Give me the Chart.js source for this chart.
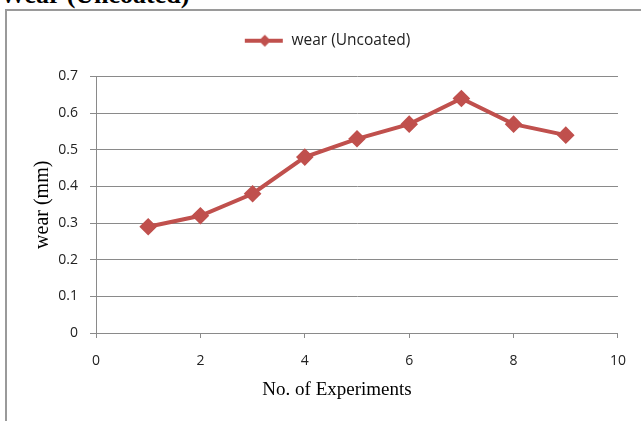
<!DOCTYPE html>
<html>
<head>
<meta charset="utf-8">
<script src="https://cdn.jsdelivr.net/npm/chart.js@4/dist/chart.umd.min.js"></script>
<style>
  html, body { margin: 0; padding: 0; background: #fff; overflow: hidden; }
  .wrap { position: relative; width: 641px; height: 421px; overflow: hidden; }
  .titulo { position: absolute; left: 0; top: -18px; font: bold 26px "Liberation Serif", serif; line-height: 26px; color: #000; white-space: nowrap; }
  .moldura { position: absolute; left: 5px; top: 9px; width: 700px; height: 500px; border: 2px solid #9a9a9a; box-sizing: border-box; }
  .eixo-x { position: absolute; left: 237px; width: 200px; top: 378px; text-align: center; font: 19px "Liberation Serif", serif; color: #000; white-space: nowrap; }
  canvas { position: absolute; left: 0; top: 0; }
</style>
</head>
<body>
<div class="wrap">
  <div class="titulo">Wear (Uncoated)</div>
  <div class="moldura"></div>
  <canvas id="grafico" width="641" height="421"></canvas>
  <div class="eixo-x">No. of Experiments</div>
</div>
<script>
var experimentos = [1, 2, 3, 4, 5, 6, 7, 8, 9];
var desgaste = [0.29, 0.32, 0.38, 0.48, 0.53, 0.57, 0.64, 0.57, 0.54];
var rotuloSerie = 'wear (Uncoated)';
var rotuloY = 'wear (mm)';
var xMin = 0, xMax = 10, xPasso = 2;
var yMin = 0, yMax = 0.7, yPasso = 0.1;

var vermelho = '#C0504D';
var cinza = '#8a8a8a';

// icone da legenda: linha com losango no meio
var icone = document.createElement('canvas');
icone.width = 40; icone.height = 16;
(function () {
  var c = icone.getContext('2d');
  c.strokeStyle = vermelho; c.lineWidth = 4;
  c.beginPath(); c.moveTo(1, 8); c.lineTo(39, 8); c.stroke();
  c.fillStyle = vermelho;
  c.beginPath(); c.moveTo(21, 2); c.lineTo(27, 8); c.lineTo(21, 14); c.lineTo(15, 8); c.closePath(); c.fill();
})();

new Chart(document.getElementById('grafico'), {
  type: 'line',
  data: {
    datasets: [{
      label: rotuloSerie,
      data: experimentos.map(function (x, i) { return { x: x, y: desgaste[i] }; }),
      borderColor: vermelho,
      backgroundColor: vermelho,
      borderWidth: 4,
      pointStyle: 'rectRot',
      pointRadius: 6,
      pointHoverRadius: 6,
      tension: 0
    }]
  },
  options: {
    responsive: false,
    animation: false,
    layout: { padding: { top: 5, right: 23, left: 36, bottom: 0 } },
    plugins: {
      tooltip: { enabled: false },
      legend: {
        position: 'top',
        labels: {
          usePointStyle: true,
          pointStyle: icone,
          pointStyleWidth: 40,
          padding: 28,
          color: '#222',
          font: { family: '"Open Sans", sans-serif', size: 15.5 }
        }
      },
      // espaco vazio entre a legenda e a area do grafico
      title: {
        display: true,
        text: '',
        weight: 500,
        padding: 0,
        font: { size: 18, lineHeight: 1 }
      }
    },
    scales: {
      x: {
        type: 'linear',
        min: xMin, max: xMax,
        afterFit: function (s) { s.height = 88; },
        ticks: { stepSize: xPasso, padding: 15, color: '#222', font: { family: '"Open Sans", sans-serif', size: 14 } },
        grid: { drawOnChartArea: false, drawTicks: true, tickLength: 5, color: cinza },
        border: { display: true, color: cinza, width: 1 }
      },
      y: {
        min: yMin, max: yMax,
        afterFit: function (s) { s.width = 60; },
        ticks: { stepSize: yPasso, padding: 12, color: '#222', font: { family: '"Open Sans", sans-serif', size: 14 } },
        grid: { color: cinza, tickLength: 6, lineWidth: 1 },
        border: { display: true, color: cinza, width: 1 },
        title: {
          display: true,
          text: rotuloY,
          color: '#000',
          padding: { top: 1, bottom: 0 },
          font: { family: '"Liberation Serif", serif', size: 20, lineHeight: 0.6 }
        }
      }
    }
  }
});
</script>
</body>
</html>
